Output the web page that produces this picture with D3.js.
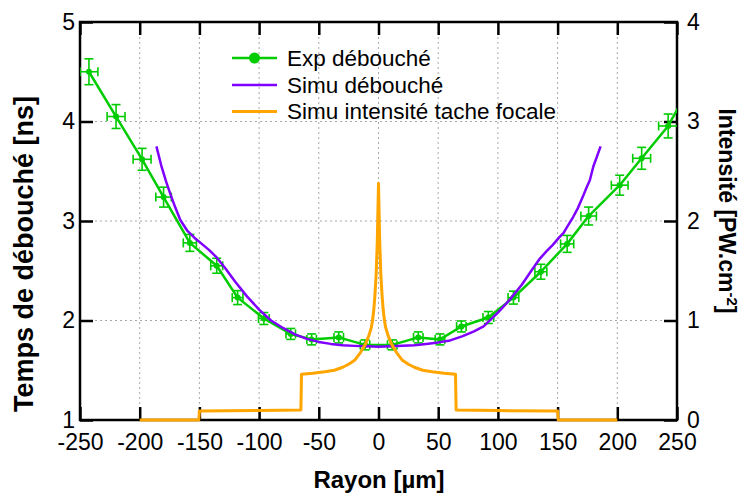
<!DOCTYPE html>
<html><head><meta charset="utf-8">
<script src="https://cdn.jsdelivr.net/npm/d3@7"></script>
<style>
html,body{margin:0;padding:0;background:#fff;}
text{font-family:"Liberation Sans",Arial,sans-serif;}
</style></head>
<body><svg id="c" width="748" height="493"></svg>
<script>
// ---- data ----
const xTicks = [-250,-200,-150,-100,-50,0,50,100,150,200,250];
const yLeftTicks = [1,2,3,4,5];
const yRightTicks = [0,1,2,3,4];

// Experimental points: radius (µm), time (ns), errors
const expR  = [-242.5,-219.8,-198,-180,-158,-135.5,-118,-96,-73.5,-56,-33.3,-11.3,11.5,33.3,51.5,69.4,92,113,136,158,176,202,220.4,242.6];
const expT  = [4.50,4.05,3.62,3.24,2.78,2.55,2.23,2.02,1.865,1.81,1.83,1.755,1.755,1.83,1.81,1.94,2.03,2.23,2.49,2.77,3.05,3.36,3.63,3.955];
const expXErr = [7.5,7.5,7.5,6.5,5.5,5,4.5,4.5,4,4,4,4,4,4,4,4,4.5,4.5,5,5.5,6.5,7,7.5,8];
const expYErr = [0.13,0.12,0.11,0.10,0.085,0.075,0.07,0.06,0.055,0.055,0.055,0.05,0.05,0.055,0.055,0.055,0.06,0.065,0.075,0.085,0.09,0.10,0.11,0.12];
const expTailR = 256, expTailT = 4.245;

// Simulated breakthrough time
const simR = [-186,-182,-178,-174,-170,-166,-160,-154,-148,-142,-136,-128,-120,-110,-100,-90,-80,-70,-60,-50,-40,-30,-20,-10,0,
              10,20,30,40,50,60,70,80,88,100,110,120,128,135,141,146,151,155,159,163,167,171,174,177,180,183,186];
const simT = [3.75,3.56,3.40,3.26,3.13,3.01,2.90,2.83,2.77,2.71,2.64,2.52,2.39,2.24,2.11,2.00,1.925,1.86,1.815,1.785,1.765,1.752,1.745,1.74,1.737,
              1.74,1.745,1.752,1.765,1.78,1.80,1.84,1.89,1.94,2.08,2.21,2.36,2.50,2.62,2.70,2.76,2.83,2.88,2.96,3.04,3.13,3.24,3.33,3.41,3.55,3.65,3.75];

// Simulated focal spot intensity (PW/cm2)
const intR = [-200,-150.5,-150,-100,-65,-64.5,-55,-45,-37,-30,-25,-20,-15,-11,-8,-6,-5,-4,-3,-2,-1,0,
              1,2,3,4,5,6,8,11,15,20,25,30,37,45,55,64.5,65,100,150,150.5,200];
const intI = [0,0,0.09,0.095,0.10,0.46,0.47,0.485,0.50,0.53,0.56,0.60,0.68,0.76,0.85,0.93,1.0,1.1,1.25,1.45,1.8,2.38,
              1.8,1.45,1.25,1.1,1.0,0.93,0.85,0.76,0.68,0.60,0.56,0.53,0.50,0.485,0.47,0.46,0.10,0.095,0.09,0,0];

const legendLabels = ["Exp débouché","Simu débouché","Simu intensité tache focale"];
const colors = {exp:"#00cc00", sim:"#7f00ff", int:"#ffa500"};

// ---- layout ----
const L=80, R=677, T=22, B=420;
const svg = d3.select("#c");
svg.append("rect").attr("width",748).attr("height",493).attr("fill","#fff");

const x = d3.scaleLinear().domain([-250,250]).range([L,R]);
const yL = d3.scaleLinear().domain([1,5]).range([B,T]);
const yR = d3.scaleLinear().domain([0,4]).range([B,T]);

// grid
const grid = svg.append("g").attr("stroke","#a8a8a8").attr("stroke-width",1).attr("stroke-dasharray","2,3");
xTicks.filter(v=>v>-250&&v<250).forEach(v=>{
  grid.append("line").attr("x1",x(v)).attr("x2",x(v)).attr("y1",T).attr("y2",B);
});
yLeftTicks.filter(v=>v>1&&v<5).forEach(v=>{
  grid.append("line").attr("x1",L).attr("x2",R).attr("y1",yL(v)).attr("y2",yL(v));
});

// axes (inward ticks)
const fs = "23px";
const tk = 13;
const axB = svg.append("g").attr("transform",`translate(0,${B})`)
  .call(d3.axisBottom(x).tickValues(xTicks).tickSize(-tk).tickPadding(14).tickFormat(d3.format("d")));
const axT = svg.append("g").attr("transform",`translate(0,${T})`)
  .call(d3.axisTop(x).tickValues(xTicks).tickSize(-tk).tickFormat(""));
const axL = svg.append("g").attr("transform",`translate(${L},0)`)
  .call(d3.axisLeft(yL).tickValues(yLeftTicks).tickSize(-tk).tickPadding(5).tickFormat(d3.format("d")));
const axR = svg.append("g").attr("transform",`translate(${R},0)`)
  .call(d3.axisRight(yR).tickValues(yRightTicks).tickSize(-tk).tickPadding(10).tickFormat(d3.format("d")));
[axB,axT,axL,axR].forEach(a=>{
  a.select(".domain").remove();
  a.selectAll(".tick line").attr("stroke","#000").attr("stroke-width",2.5);
  a.selectAll(".tick text").attr("font-size",fs).attr("fill","#000")
   .attr("font-family","'Liberation Sans',Arial,sans-serif");
});
axB.selectAll(".tick text").text(d=>d<0?"-"+Math.abs(d):d);

// frame
svg.append("rect").attr("x",L).attr("y",T).attr("width",R-L).attr("height",B-T)
  .attr("fill","none").attr("stroke","#000").attr("stroke-width",2.5);

// clips
svg.append("clipPath").attr("id","clip").append("rect").attr("x",L).attr("y",T).attr("width",R-L).attr("height",B-T);
svg.append("clipPath").attr("id","clip2").append("rect").attr("x",L).attr("y",T).attr("width",R-L).attr("height",B-T+3);
const plot = svg.append("g").attr("clip-path","url(#clip)");

// experimental line
const expLinePts = expR.map((r,i)=>[r,expT[i]]).concat([[expTailR,expTailT]]);
const lineL = d3.line().x(d=>x(d[0])).y(d=>yL(d[1]));
plot.append("path").attr("d",lineL(expLinePts)).attr("fill","none")
  .attr("stroke",colors.exp).attr("stroke-width",2.5).attr("stroke-linejoin","round");

// error bars
const cap = 4.5;
const eb = plot.append("g").attr("stroke",colors.exp).attr("stroke-width",1.6).attr("fill","none");
expR.forEach((r,i)=>{
  const cx=x(r), cy=yL(expT[i]);
  const x0=x(r-expXErr[i]), x1=x(r+expXErr[i]);
  const y0=yL(expT[i]-expYErr[i]), y1=yL(expT[i]+expYErr[i]);
  eb.append("line").attr("x1",cx).attr("x2",cx).attr("y1",y0).attr("y2",y1);
  eb.append("line").attr("x1",cx-cap).attr("x2",cx+cap).attr("y1",y0).attr("y2",y0);
  eb.append("line").attr("x1",cx-cap).attr("x2",cx+cap).attr("y1",y1).attr("y2",y1);
  eb.append("line").attr("x1",x0).attr("x2",x1).attr("y1",cy).attr("y2",cy);
  eb.append("line").attr("x1",x0).attr("x2",x0).attr("y1",cy-cap).attr("y2",cy+cap);
  eb.append("line").attr("x1",x1).attr("x2",x1).attr("y1",cy-cap).attr("y2",cy+cap);
});
plot.append("g").selectAll("circle").data(expR).join("circle")
  .attr("cx",d=>x(d)).attr("cy",(d,i)=>yL(expT[i])).attr("r",3).attr("fill",colors.exp);

// simulation line
plot.append("path").attr("d",lineL(simR.map((r,i)=>[r,simT[i]]))).attr("fill","none")
  .attr("stroke",colors.sim).attr("stroke-width",2.5).attr("stroke-linejoin","round");

// intensity line
const lineR = d3.line().x(d=>x(d[0])).y(d=>yR(d[1]));
svg.append("g").attr("clip-path","url(#clip2)").append("path")
  .attr("d",lineR(intR.map((r,i)=>[r,intI[i]]))).attr("fill","none")
  .attr("stroke",colors.int).attr("stroke-width",3).attr("stroke-linejoin","round");

// legend
const legX0=232, legX1=277, legTx=287;
const rowY=[58,85,111.5];
const keys=["exp","sim","int"];
const lg = svg.append("g");
keys.forEach((k,i)=>{
  lg.append("line").attr("x1",legX0).attr("x2",legX1).attr("y1",rowY[i]).attr("y2",rowY[i])
    .attr("stroke",colors[k]).attr("stroke-width",k==="int"?3:2.5);
  if(k==="exp") lg.append("circle").attr("cx",(legX0+legX1)/2).attr("cy",rowY[i]).attr("r",5.5).attr("fill",colors.exp);
  lg.append("text").attr("x",legTx).attr("y",rowY[i]+7.5).attr("font-size","22.5px").attr("fill","#000")
    .text(legendLabels[i]);
});

// titles
svg.append("text").attr("x",379).attr("y",488).attr("text-anchor","middle")
  .attr("font-size","24px").attr("font-weight","bold").text("Rayon [µm]");
svg.append("text").attr("transform","translate(33,254) rotate(-90)").attr("text-anchor","middle")
  .attr("font-size","27px").attr("font-weight","bold").text("Temps de débouché [ns]");
const rt = svg.append("text").attr("transform","translate(719,211) rotate(90)").attr("text-anchor","middle")
  .attr("font-size","23px").attr("font-weight","bold");
rt.append("tspan").text("Intensité [PW.cm");
rt.append("tspan").attr("font-size","15px").attr("dy","-8").text("-2");
rt.append("tspan").attr("dy","8").text("]");
</script></body></html>
